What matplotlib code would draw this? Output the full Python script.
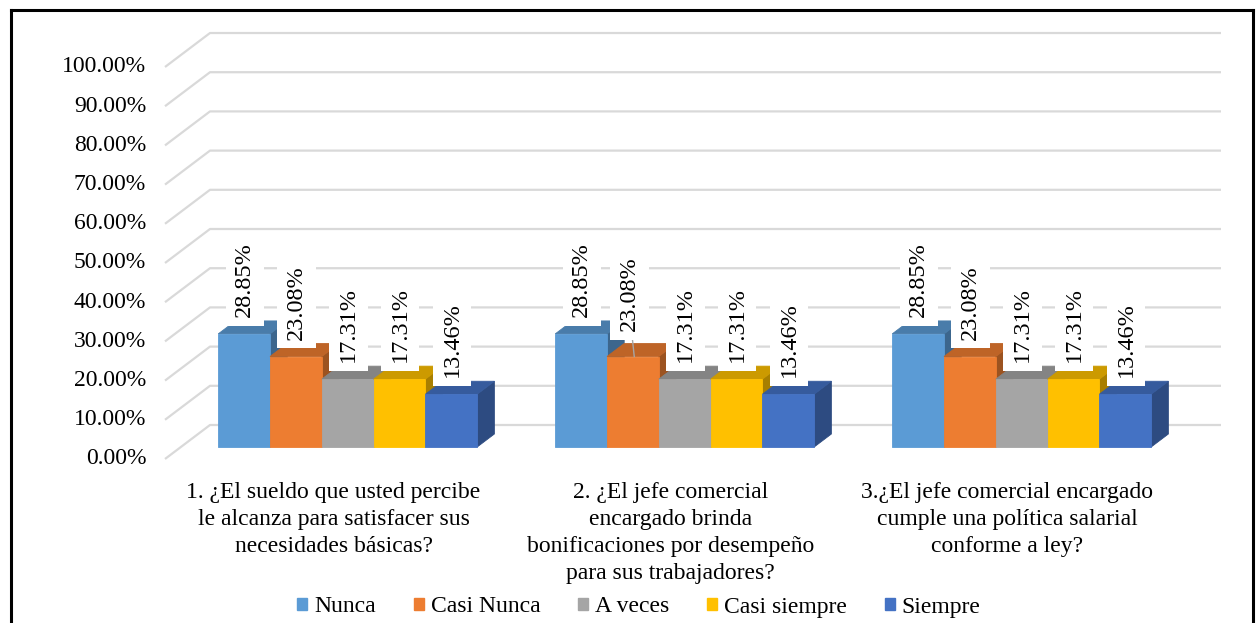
import matplotlib
matplotlib.use("Agg")
from matplotlib import pyplot as plot
from matplotlib.patches import Polygon, Patch
import numpy as np

# chart data
QUESTIONS = [
    "1. ¿El sueldo que usted percibe\nle alcanza para satisfacer sus\nnecesidades básicas?",
    "2. ¿El jefe comercial\nencargado brinda\nbonificaciones por desempeño\npara sus trabajadores?",
    "3.¿El jefe comercial encargado\ncumple una política salarial\nconforme a ley?",
]
SERIES = ["Nunca", "Casi Nunca", "A veces", "Casi siempre", "Siempre"]
COLORS = ["#5B9BD5", "#ED7D31", "#A5A5A5", "#FFC000", "#4472C4"]
nunca = [28.85, 28.85, 28.85]
casiNunca = [23.08, 23.08, 23.08]
aVeces = [17.31, 17.31, 17.31]
casiSiempre = [17.31, 17.31, 17.31]
siempre = [13.46, 13.46, 13.46]
TICKS = [0, 10, 20, 30, 40, 50, 60, 70, 80, 90, 100]

FONT = "Liberation Serif"
FONT_SIZE = 17

# fake 3d: offset of the back wall relative to the front edge of the floor
DEPTH_X = 0.1335
DEPTH_Y = 8.67
#bars sit between these fractions of the depth
BAR_FRONT = 0.353
BAR_BACK = 0.735
BAR_WIDTH = 0.1537
GROUP_SHIFT = -0.005


def shade(color, factor):
    rgb = np.array(matplotlib.colors.to_rgb(color))
    return tuple(rgb * factor)


def drawGrid(axis, levels, nCats):
    for v in levels:
        xs = [-0.5, -0.5 + DEPTH_X, nCats - 0.5 + DEPTH_X]
        ys = [v, v + DEPTH_Y, v + DEPTH_Y]
        axis.plot(xs, ys, color="#d9d9d9", lw=1.6, zorder=1, solid_capstyle="butt")


def drawBar(axis, left, value, color, z):
    fx, fy = BAR_FRONT * DEPTH_X, BAR_FRONT * DEPTH_Y
    dx, dy = (BAR_BACK - BAR_FRONT) * DEPTH_X, (BAR_BACK - BAR_FRONT) * DEPTH_Y
    x0 = left + fx
    x1 = x0 + BAR_WIDTH
    y0 = fy
    y1 = fy + value
    front = [(x0, y0), (x1, y0), (x1, y1), (x0, y1)]
    top = [(x0, y1), (x1, y1), (x1 + dx, y1 + dy), (x0 + dx, y1 + dy)]
    side = [(x1, y0), (x1 + dx, y0 + dy), (x1 + dx, y1 + dy), (x1, y1)]
    for face, factor in ((side, 0.66), (top, 0.8), (front, 1.0)):
        c = shade(color, factor)
        axis.add_patch(Polygon(face, closed=True, facecolor=c, edgecolor=c,
                               lw=0.6, zorder=z))
    return (x0 + x1) / 2, y1


def main():
    values = [nunca, casiNunca, aVeces, casiSiempre, siempre]
    nCats = len(QUESTIONS)

    figure = plot.figure(figsize=(12.57, 6.23), dpi=100)
    axis = figure.add_axes([11 / 1257, 0, 1242 / 1257, 613 / 623])
    axis.set_xlim(-0.957, 2.7285)
    axis.set_ylim(-41.84, 114.54)
    axis.set_xticks([])
    axis.set_yticks([])
    for name, spine in axis.spines.items():
        spine.set_color("black")
        spine.set_linewidth(2.2)
    axis.spines["bottom"].set_visible(False)

    drawGrid(axis, TICKS, nCats)

    # y tick labels at the front edge
    for v in TICKS:
        axis.text(-0.556, v, f"{v:.2f}%", ha="right", va="center",
                  fontfamily=FONT, fontsize=FONT_SIZE, zorder=5)

    #label nudged away from its bar (with a leader line)
    labelShift = {(1, 1): (-0.012, 2.2)}

    nSeries = len(SERIES)
    for i in range(nCats):
        groupLeft = i - nSeries * BAR_WIDTH / 2 + GROUP_SHIFT
        for j in range(nSeries):
            v = values[j][i]
            cx, top = drawBar(axis, groupLeft + j * BAR_WIDTH, v, COLORS[j], 10 + j)
            sx, sy = labelShift.get((i, j), (0, 0))
            lx, ly = cx + 0.002 + sx, top + 4.3 + sy
            if (sx, sy) != (0, 0):
                axis.plot([cx + 0.004, cx - 0.004], [top, ly], color="#a6a6a6",
                          lw=1.0, zorder=19)
            axis.text(lx, ly, f"{v:.2f}%", rotation=90, ha="center", va="bottom",
                      fontfamily=FONT, fontsize=17.5, zorder=20 + j,
                      bbox=dict(boxstyle="square,pad=0.36", facecolor="white",
                                edgecolor="none"))

        axis.text(i, -5.9, QUESTIONS[i], ha="center", va="top", fontfamily=FONT,
                  fontsize=FONT_SIZE, linespacing=1.38, zorder=5)

    handles = [Patch(facecolor=c, edgecolor=c) for c in COLORS]
    figure.legend(handles, SERIES, loc="center", bbox_to_anchor=(639 / 1257, 1 - 607 / 623),
                  ncol=nSeries, frameon=False, prop={"family": FONT, "size": FONT_SIZE},
                  handlelength=0.42, handleheight=0.42, handletextpad=0.3,
                  columnspacing=1.6, borderpad=0, borderaxespad=0)

    figure.savefig("out.png", dpi=100)


if (__name__ == "__main__"):
    main()
